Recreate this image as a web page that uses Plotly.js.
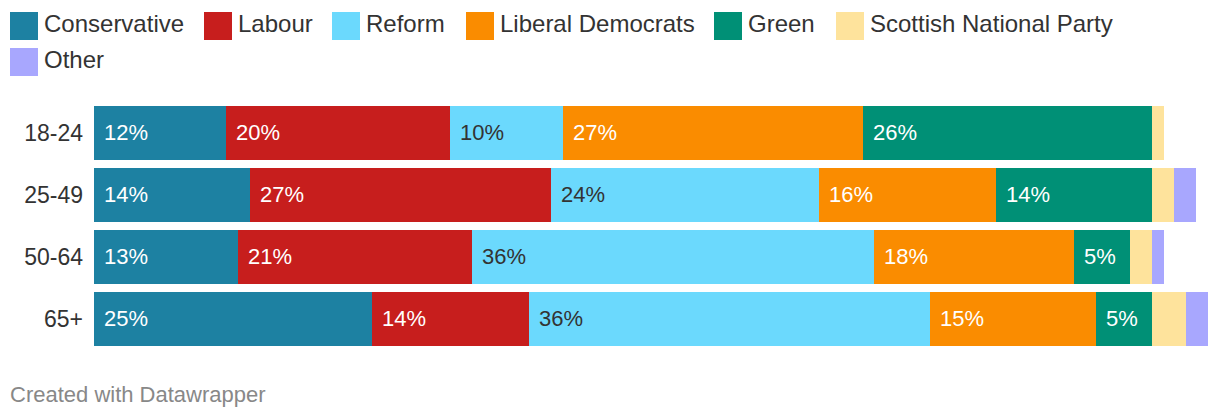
<!DOCTYPE html>
<html>
<head>
<meta charset="utf-8">
<script src="https://cdn.plot.ly/plotly-3.0.1.min.js"></script>
<style>
  html, body { margin: 0; padding: 0; background: #fff; }
  #chart { width: 1220px; height: 418px; }
</style>
</head>
<body>
<div id="chart"></div>
<script>
// ---- Data ----
const categories = ['18-24', '25-49', '50-64', '65+'];
const parties = ['Conservative', 'Labour', 'Reform', 'Liberal Democrats', 'Green', 'Scottish National Party', 'Other'];

const conservative = [12.0, 14.2, 13.1, 25.3];
const labour       = [20.4, 27.3, 21.3, 14.2];
const reform       = [10.2, 24.4, 36.5, 36.5];
const libDem       = [27.3, 16.1, 18.2, 15.1];
const green        = [26.3, 14.2, 5.1, 5.1];
const snp          = [1.1, 2.0, 2.0, 3.1];
const other        = [0.0, 2.0, 1.1, 2.0];

const conservativeLabels = ['12%', '14%', '13%', '25%'];
const labourLabels       = ['20%', '27%', '21%', '14%'];
const reformLabels       = ['10%', '24%', '36%', '36%'];
const libDemLabels       = ['27%', '16%', '18%', '15%'];
const greenLabels        = ['26%', '14%', '5%', '5%'];
const snpLabels          = ['', '', '', ''];
const otherLabels        = ['', '', '', ''];

// ---- Styling ----
const colors = ['#1d81a2', '#c71e1d', '#6bd9fd', '#fa8c00', '#009076', '#fee39c', '#a8a7fe'];
const labelColors = ['#ffffff', '#ffffff', '#333333', '#ffffff', '#ffffff', '#333333', '#333333'];
const FONT = '"Liberation Sans", Arial, Helvetica, sans-serif';

const seriesValues = [conservative, labour, reform, libDem, green, snp, other];
const seriesLabels = [conservativeLabels, labourLabels, reformLabels, libDemLabels, greenLabels, snpLabels, otherLabels];

const W = 1220, H = 418;
const M = { l: 94, r: 12, t: 102, b: 68 };
const plotW = W - M.l - M.r, plotH = H - M.t - M.b;
const pxX = px => (px - M.l) / plotW;      // pixel -> paper x
const pxY = py => (H - M.b - py) / plotH;  // pixel -> paper y

const traces = parties.map((name, i) => ({
  type: 'bar',
  orientation: 'h',
  name: name,
  x: seriesValues[i],
  y: categories,
  marker: { color: colors[i], line: { width: 0 } },
  hoverinfo: 'skip',
  showlegend: false
}));

const annotations = [];
// segment labels
categories.forEach((cat, ci) => {
  let base = 0;
  parties.forEach((p, pi) => {
    const v = seriesValues[pi][ci];
    const t = seriesLabels[pi][ci];
    if (t) {
      annotations.push({
        x: base, y: cat, xref: 'x', yref: 'y',
        text: t, showarrow: false, xanchor: 'left', yanchor: 'middle',
        xshift: 8, yshift: 1,
        font: { family: FONT, size: 22, color: labelColors[pi] }
      });
    }
    base += v;
  });
});

// custom legend (swatch + text)
const legendPos = [[10, 12], [204, 12], [332, 12], [466, 12], [714, 12], [836, 12], [10, 48]];
const shapes = [];
parties.forEach((p, i) => {
  const [lx, ly] = legendPos[i];
  shapes.push({
    type: 'rect', xref: 'paper', yref: 'paper',
    x0: pxX(lx), x1: pxX(lx + 28), y0: pxY(ly + 28), y1: pxY(ly),
    fillcolor: colors[i], line: { width: 0 }
  });
  annotations.push({
    xref: 'paper', yref: 'paper', x: pxX(lx + 32), y: pxY(ly + 11.5),
    text: p, showarrow: false, xanchor: 'left', yanchor: 'middle',
    font: { family: FONT, size: 24, color: '#333333' }
  });
});

// footer
annotations.push({
  xref: 'paper', yref: 'paper', x: pxX(8), y: pxY(394),
  text: 'Created with Datawrapper', showarrow: false, xanchor: 'left', yanchor: 'middle',
  font: { family: FONT, size: 22, color: '#888888' }
});

const layout = {
  width: W, height: H,
  margin: M,
  paper_bgcolor: '#ffffff', plot_bgcolor: '#ffffff',
  barmode: 'stack',
  bargap: 8 / 62,
  showlegend: false,
  xaxis: {
    range: [0, plotW / 11],
    showgrid: false, zeroline: false, showticklabels: false, showline: false, fixedrange: true
  },
  yaxis: {
    type: 'category',
    range: [3.5, -0.5],
    showgrid: false, zeroline: false, showline: false, ticks: '',
    ticklabelstandoff: 10,
    tickfont: { family: FONT, size: 23, color: '#333333' },
    fixedrange: true
  },
  font: { family: FONT },
  shapes: shapes,
  annotations: annotations
};

Plotly.newPlot('chart', traces, layout, { staticPlot: true, displayModeBar: false });
</script>
</body>
</html>
